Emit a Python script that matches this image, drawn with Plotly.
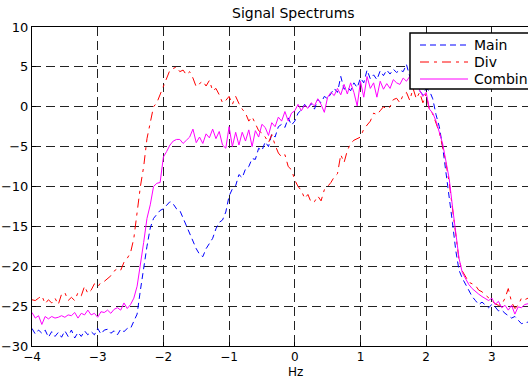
import numpy as np
import plotly.graph_objects as go

# frequency bins (Hz)
freq = np.round(np.arange(-4.0, 3.5501, 0.05), 2)

main_db = [
    -27.8, -28.5, -28.0, -28.4, -28.0, -28.9, -28.2, -28.8, -28.3, -28.9,
    -28.1, -28.8, -28.0, -29.0, -28.3, -28.8, -28.1, -28.6, -28.2, -28.6,
    -27.8, -28.5, -28.0, -27.9, -28.4, -28.1, -28.6, -27.9, -28.2, -27.8,
    -27.8, -27.0, -26.0, -23.0, -20.0, -17.5, -15.2, -14.0, -13.5, -13.0,
    -12.8, -12.3, -11.9, -12.2, -12.8, -13.0, -14.0, -15.0, -16.0, -17.0,
    -17.8, -18.5, -18.8, -17.8, -17.2, -16.5, -15.3, -14.5, -14.2, -13.2,
    -11.2, -10.3, -9.9, -8.5, -8.9, -7.8, -7.5, -6.5, -6.6, -5.2,
    -5.5, -4.4, -5.0, -3.4, -3.8, -2.5, -2.2, -2.6, -1.4, -2.3,
    -1.8, -0.8, -0.4, 0.3, -0.2, 0.4, -0.3, 0.9, 0.5, 1.3,
    1.0, 1.6, 2.3, 1.8, 3.8, 2.2, 2.5, 2.0, 3.0, 2.4,
    3.6, 3.0, 4.6, 3.5, 4.0, 3.4, 4.5, 3.9, 4.6, 4.1,
    4.7, 4.3, 4.6, 4.4, 5.3, 3.8, 3.0, 2.8, 2.0, 1.5,
    2.3, 2.0, 1.0, -1.0, -2.5, -5.0, -8.0, -11.0, -14.5, -18.0,
    -20.5, -21.5, -22.3, -23.0, -23.8, -24.3, -24.8, -24.5, -24.9, -25.2,
    -24.8, -25.1, -25.6, -25.5, -25.9, -26.2, -26.5, -26.3, -26.8, -27.2, -27.1, -27.0,
]

div_db = [
    -24.2, -24.3, -24.0, -23.7, -24.7, -24.2, -24.6, -24.0, -24.8, -23.5,
    -23.3, -24.3, -23.9, -24.3, -23.3, -23.7, -22.5, -23.4, -23.0, -22.2,
    -22.6, -22.0, -21.9, -21.6, -21.2, -20.6, -20.3, -20.5, -19.5, -19.0,
    -18.3, -16.5, -13.0, -10.0, -7.5, -4.0, -2.0, 0.0, 0.5, 1.5,
    2.5, 3.5, 4.6, 4.8, 5.0, 4.4, 4.6, 4.0, 4.4, 3.6,
    2.5, 2.9, 3.2, 2.6, 3.3, 2.0, 2.3, 1.5, 0.5, 0.8,
    1.3, 0.3, 1.3, 0.4, -0.3, -0.8, -1.8, -1.25, -2.2, -3.0,
    -3.3, -3.8, -4.5, -3.5, -4.8, -5.8, -6.3, -6.0, -7.5, -7.9,
    -9.2, -10.0, -10.5, -11.5, -11.0, -12.0, -11.9, -11.2, -11.8, -10.4,
    -10.0, -9.5, -8.8, -8.4, -6.0, -7.0, -5.5, -4.6, -4.2, -4.0,
    -3.8, -2.8, -2.3, -1.8, -0.8, -1.0, -0.5, 0.0, -0.3, 0.0,
    0.9, 1.06, 0.5, 1.5, 1.8, 0.8, 2.3, 1.0, 1.8, 0.5,
    1.6, -0.5, -0.9, -2.0, -3.2, -5.0, -7.0, -9.5, -12.8, -16.2,
    -19.2, -20.6, -21.4, -22.0, -22.2, -22.4, -23.0, -23.2, -23.6, -23.9,
    -24.3, -24.7, -24.9, -24.8, -24.0, -22.8, -24.5, -25.3, -24.9, -24.0, -24.2, -24.0,
]

comb_db = [
    -25.8, -26.5, -26.2, -27.3, -26.3, -26.6, -26.3, -26.5, -26.4, -26.2,
    -26.4, -26.1, -26.2, -25.8, -26.5, -25.9, -26.1, -25.5, -26.1, -25.9,
    -26.4, -25.7, -25.8, -25.5, -25.9, -25.4, -25.2, -25.5, -24.6, -25.3,
    -24.8, -24.0, -22.5, -20.0, -17.0, -14.0, -12.3, -10.0, -9.6, -9.5,
    -6.3, -5.6, -4.8, -4.3, -4.1, -4.1, -4.6, -4.2, -3.8, -2.8,
    -4.5, -3.8, -4.6, -3.4, -3.9, -2.8, -4.0, -3.1, -4.8, -5.2,
    -2.5, -5.0, -3.2, -4.8, -3.2, -4.3, -2.9, -5.0, -3.0, -3.8,
    -2.2, -2.6, -3.6, -2.0, -2.5, -1.3, -1.8, -0.6, -1.8, -0.8,
    -0.5, 0.3, -0.5, 0.2, -0.2, 0.5, 0.1, 1.0, 0.3, -0.7,
    1.2, 1.8, 1.4, 2.3, 1.5, 2.8, 1.6, 3.0, 1.8, 0.1,
    3.2, 1.2, 3.8, 2.3, 3.0, 1.2, 3.2, 2.2, 2.9, 2.3,
    3.4, 3.0, 2.8, 3.6, 3.2, 3.8, 2.6, 3.3, 2.1, 1.3,
    1.8, -0.3, -0.8, -1.8, -3.2, -4.6, -6.8, -9.0, -12.5, -16.0,
    -19.0, -20.8, -21.6, -22.3, -22.8, -23.2, -23.5, -23.8, -24.0, -24.3,
    -24.0, -24.8, -24.4, -25.2, -24.9, -25.5, -24.9, -26.0, -25.1, -25.2, -24.8, -24.7,
]

series_names = ["Main", "Div", "Combined"]
series_colors = ["#0000ff", "#ff0000", "#ff00ff"]
series_dashes = ["6px,4px", "9px,5px,3px,5px", "solid"]

x_ticks = [-4, -3, -2, -1, 0, 1, 2, 3]
y_ticks = [-30, -25, -20, -15, -10, -5, 0, 5, 10]

FONT = "DejaVu Sans, Liberation Sans, Arial, sans-serif"

# layout geometry (pixels)
W, H = 528, 381
ML, MR, MT, MB = 32, 0, 27, 35
PW, PH = W - ML - MR, H - MT - MB


def px_x(p):
    return (p - ML) / PW


def px_y(p):
    return 1 - (p - MT) / PH


fig = go.Figure()
for name, ys, col, dash in zip(series_names, [main_db, div_db, comb_db], series_colors, series_dashes):
    fig.add_trace(go.Scatter(x=freq, y=ys, mode="lines", name=name, showlegend=False,
                             line=dict(color=col, width=1, dash=dash)))

# MATLAB-style legend box (clipped at the right edge like the original)
shapes = [dict(type="rect", xref="paper", yref="paper",
               x0=px_x(410), x1=px_x(600), y0=px_y(89), y1=px_y(33),
               line=dict(color="black", width=1.5), fillcolor="white", layer="above")]
annotations = []
row_y = [45, 62, 79]
for name, col, dash, ry in zip(series_names, series_colors, series_dashes, row_y):
    shapes.append(dict(type="line", xref="paper", yref="paper",
                       x0=px_x(420), x1=px_x(468), y0=px_y(ry), y1=px_y(ry),
                       line=dict(color=col, width=1, dash=dash), layer="above"))
    annotations.append(dict(text=name, xref="paper", yref="paper",
                            x=px_x(472), y=px_y(ry), xanchor="left", yanchor="middle",
                            showarrow=False, font=dict(size=14, color="black")))

# title and axis label, centred like the (wider, cropped) original axes
annotations.append(dict(text="Signal Spectrums", xref="paper", yref="paper",
                        x=px_x(293.5), y=px_y(13), xanchor="center", yanchor="middle",
                        showarrow=False, font=dict(size=14, color="black")))
annotations.append(dict(text="Hz", xref="paper", yref="paper",
                        x=px_x(295), y=px_y(381), xanchor="center", yanchor="bottom",
                        showarrow=False, font=dict(size=12, color="black")))

fig.update_layout(
    width=W, height=H,
    margin=dict(l=ML, r=MR, t=MT, b=MB, autoexpand=False),
    paper_bgcolor="white", plot_bgcolor="white",
    font=dict(family=FONT, size=14, color="black"),
    showlegend=False,
    shapes=shapes, annotations=annotations,
)
fig.update_xaxes(
    range=[-4, 3.55], tickmode="array", tickvals=x_ticks,
    showline=True, linecolor="black", linewidth=1, mirror=True,
    ticks="inside", ticklen=4, tickcolor="black",
    showgrid=True, gridcolor="#222222", gridwidth=1, griddash="9px,5px",
    zeroline=False, tickfont=dict(size=12),
)
fig.update_yaxes(
    range=[-30, 10], tickmode="array", tickvals=y_ticks,
    showline=True, linecolor="black", linewidth=1, mirror=False,
    ticks="inside", ticklen=4, tickcolor="black",
    showgrid=True, gridcolor="#222222", gridwidth=1, griddash="9px,5px",
    zeroline=False, tickfont=dict(size=13),
)

fig.write_html("out.html", config={"displayModeBar": False},
               post_script="document.body.style.margin='0';")
